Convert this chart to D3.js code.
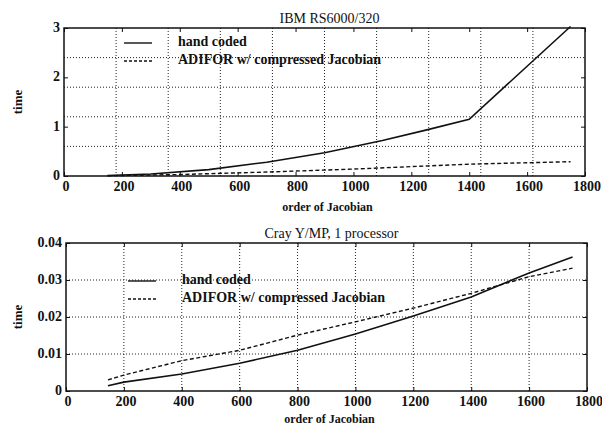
<!DOCTYPE html>
<html lang="en">
<head>
<meta charset="utf-8"/>
<style>
body { margin: 0; background: #fff; }
text { font-family: "Liberation Serif", "DejaVu Serif", serif; fill: #111; }
</style>
</head>
<body>
<svg width="602" height="425"></svg>
<script src="https://d3js.org/d3.v7.min.js"></script>
<script>

// IBM RS6000/320
var ibmHandX = [150, 300, 500, 700, 900, 1100, 1250, 1400, 1750];
var ibmHandY = [0.01, 0.04, 0.13, 0.28, 0.47, 0.72, 0.93, 1.15, 3.03];
var ibmAdiX  = [150, 400, 700, 1000, 1400, 1750];
var ibmAdiY  = [0.005, 0.03, 0.08, 0.14, 0.24, 0.29];

// Cray Y/MP, 1 processor
var crayHandX = [145, 200, 400, 600, 800, 1000, 1200, 1400, 1600, 1750];
var crayHandY = [0.0014, 0.0024, 0.0046, 0.0075, 0.011, 0.0154, 0.0203, 0.0254, 0.0319, 0.0362];
var crayAdiX  = [145, 200, 400, 600, 800, 1000, 1200, 1400, 1600, 1750];
var crayAdiY  = [0.003, 0.0043, 0.0082, 0.011, 0.0151, 0.0187, 0.0224, 0.0264, 0.0309, 0.0332];

var xTicks = [0, 200, 400, 600, 800, 1000, 1200, 1400, 1600, 1800];
var legendNames = ["hand coded", "ADIFOR w/ compressed Jacobian"];

var svg = d3.select("svg");

function panel(o) {
  var x = d3.scaleLinear().domain([0, 1800]).range([o.left, o.right]);
  var y = d3.scaleLinear().domain([0, o.ymax]).range([o.bottom, o.top]);
  var g = svg.append("g");

  // dotted grid
  g.append("g").selectAll("line").data(o.xGrid).enter().append("line")
    .attr("x1", d => x(d)).attr("x2", d => x(d))
    .attr("y1", o.top).attr("y2", o.bottom)
    .attr("stroke", "#222").attr("stroke-width", 1).attr("stroke-dasharray", "1,2");
  g.append("g").selectAll("line").data(o.yGrid).enter().append("line")
    .attr("y1", d => y(d)).attr("y2", d => y(d))
    .attr("x1", o.left).attr("x2", o.right)
    .attr("stroke", "#222").attr("stroke-width", 1).attr("stroke-dasharray", "1,2");

  // axes (inward ticks)
  var ax = function(sel) { sel.select(".domain").remove(); sel.selectAll("text").remove(); };
  g.append("g").attr("transform", "translate(0," + o.bottom + ")")
    .call(d3.axisTop(x).tickValues(xTicks).tickSize(4)).call(ax);
  g.append("g").attr("transform", "translate(0," + o.top + ")")
    .call(d3.axisBottom(x).tickValues(xTicks).tickSize(4)).call(ax);
  g.append("g").attr("transform", "translate(" + o.left + ",0)")
    .call(d3.axisRight(y).tickValues(o.yTicks).tickSize(4)).call(ax);
  g.append("g").attr("transform", "translate(" + o.right + ",0)")
    .call(d3.axisLeft(y).tickValues(o.yTicks).tickSize(4)).call(ax);
  g.selectAll(".tick line").attr("stroke", "#111");

  g.append("rect").attr("x", o.left).attr("y", o.top)
    .attr("width", o.right - o.left).attr("height", o.bottom - o.top)
    .attr("fill", "none").attr("stroke", "#111").attr("stroke-width", 1.5);

  // tick labels
  g.append("g").selectAll("text").data(xTicks).enter().append("text")
    .attr("x", d => x(d) + 2).attr("y", o.bottom + 15)
    .attr("text-anchor", "middle").attr("font-size", 14).attr("font-weight", "bold")
    .text(d => d);
  g.append("g").selectAll("text").data(o.yTicks).enter().append("text")
    .attr("x", o.left - 4).attr("y", d => y(d) + 4)
    .attr("text-anchor", "end").attr("font-size", 14).attr("font-weight", "bold")
    .text(o.fmt);

  // curves
  var line = d3.line().x(d => x(d[0])).y(d => y(d[1]));
  g.append("path").datum(d3.zip(o.handX, o.handY)).attr("d", line)
    .attr("fill", "none").attr("stroke", "#111").attr("stroke-width", 1.6);
  g.append("path").datum(d3.zip(o.adiX, o.adiY)).attr("d", line)
    .attr("fill", "none").attr("stroke", "#111").attr("stroke-width", 1.4)
    .attr("stroke-dasharray", "4,2.5");

  // legend
  var lg = g.append("g");
  lg.selectAll("line").data(legendNames).enter().append("line")
    .attr("x1", o.legX).attr("x2", o.legX + 28)
    .attr("y1", (d, i) => o.legY + i * o.legDy).attr("y2", (d, i) => o.legY + i * o.legDy)
    .attr("stroke", "#111").attr("stroke-width", 1.4)
    .attr("stroke-dasharray", (d, i) => i ? "3,2" : null);
  lg.selectAll("text").data(legendNames).enter().append("text")
    .attr("x", o.legX + 54).attr("y", (d, i) => o.legY + i * o.legDy + 3)
    .attr("font-size", 14).attr("font-weight", "bold")
    .text(d => d);

  // titles
  g.append("text").attr("x", (o.left + o.right) / 2 + 5).attr("y", o.top - 5)
    .attr("text-anchor", "middle").attr("font-size", 14).text(o.title);
  g.append("text").attr("x", (o.left + o.right) / 2 + 3).attr("y", o.bottom + o.xlabDy)
    .attr("text-anchor", "middle").attr("font-size", 12).attr("font-weight", "bold")
    .text("order of Jacobian");
  g.append("text").attr("transform", "translate(" + o.ylabX + "," + ((o.top + o.bottom) / 2) + ") rotate(-90)")
    .attr("text-anchor", "middle").attr("font-size", 13).attr("font-weight", "bold")
    .text("time");
}

panel({
  left: 64, right: 585, top: 28, bottom: 176, ymax: 3,
  yTicks: [0, 1, 2, 3], fmt: d => d,
  xGrid: [180, 360, 540, 720, 900, 1080, 1260, 1440, 1620],
  yGrid: [0.6, 1.2, 1.8, 2.4],
  handX: ibmHandX, handY: ibmHandY, adiX: ibmAdiX, adiY: ibmAdiY,
  legX: 124, legY: 43, legDy: 18, ylabX: 22, xlabDy: 35,
  title: "IBM RS6000/320"
});

panel({
  left: 66, right: 587, top: 243, bottom: 391, ymax: 0.04,
  yTicks: [0, 0.01, 0.02, 0.03, 0.04], fmt: d => d === 0 ? "0" : d.toFixed(2),
  xGrid: [200, 400, 600, 800, 1000, 1200, 1400, 1600],
  yGrid: [0.01, 0.02, 0.03],
  handX: crayHandX, handY: crayHandY, adiX: crayAdiX, adiY: crayAdiY,
  legX: 128, legY: 281, legDy: 18, ylabX: 22, xlabDy: 32,
  title: "Cray Y/MP, 1 processor"
});

</script>
</body>
</html>
